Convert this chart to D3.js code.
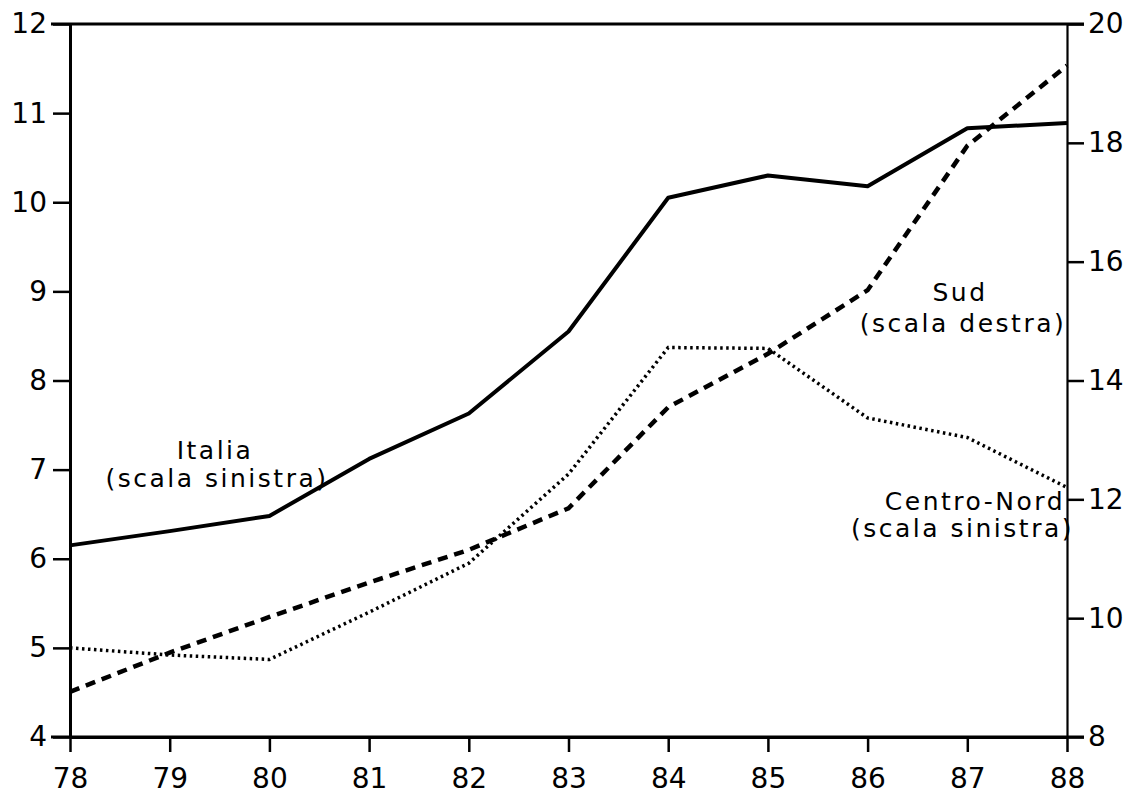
<!DOCTYPE html>
<html>
<head>
<meta charset="utf-8">
<script src="https://cdnjs.cloudflare.com/ajax/libs/d3/7.8.5/d3.min.js"></script>
<style>
    body { margin: 0; background: #fff; }
    text { font-family: "DejaVu Sans", sans-serif; fill: #000; }
</style>
</head>
<body>
<div id="chart"></div>
<script>
const w = 1147;
const h = 799;

// data
const years = [78, 79, 80, 81, 82, 83, 84, 85, 86, 87, 88];
const italia = [6.15, 6.31, 6.48, 7.12, 7.63, 8.55, 10.05, 10.3, 10.18, 10.83, 10.89];      // scala sinistra
const centroNord = [5.0, 4.92, 4.87, 5.4, 5.95, 6.95, 8.37, 8.36, 7.58, 7.36, 6.8];        // scala sinistra
const sud = [8.76, 9.42, 10.02, 10.6, 11.15, 11.85, 13.55, 14.45, 15.52, 17.95, 19.3];    // scala destra

const leftTicks = [4, 5, 6, 7, 8, 9, 10, 11, 12];
const rightTicks = [8, 10, 12, 14, 16, 18, 20];

const margin = { top: 24, right: 80, bottom: 62, left: 70 };

const svg = d3.select("#chart")
    .append("svg")
    .attr("width", w)
    .attr("height", h);

// scales
const x = d3.scaleLinear()
    .domain([78, 88])
    .range([margin.left, w - margin.right]);

const yLeft = d3.scaleLinear()
    .domain([4, 12])
    .range([h - margin.bottom, margin.top]);

const yRight = d3.scaleLinear()
    .domain([8, 20])
    .range([h - margin.bottom, margin.top]);

// axes
const xAxis = svg.append("g")
    .attr("transform", "translate(0," + yLeft(4) + ")")
    .call(d3.axisBottom(x).tickValues(years).tickFormat(d3.format("d"))
        .tickSize(15).tickPadding(16).tickSizeOuter(0));

const leftAxis = svg.append("g")
    .attr("transform", "translate(" + x(78) + ",0)")
    .call(d3.axisLeft(yLeft).tickValues(leftTicks).tickFormat(d3.format("d"))
        .tickSize(17).tickPadding(6).tickSizeOuter(0));

const rightAxis = svg.append("g")
    .attr("transform", "translate(" + x(88) + ",0)")
    .call(d3.axisRight(yRight).tickValues(rightTicks).tickFormat(d3.format("d"))
        .tickSize(17).tickPadding(4).tickSizeOuter(0));

[xAxis, leftAxis, rightAxis].forEach(function(a) {
    a.selectAll("text").style("font-size", "28px");
    a.selectAll("line").attr("stroke", "#000").attr("stroke-width", 2.5);
    a.select(".domain").attr("stroke", "#000").attr("stroke-width", 3);
});
rightAxis.select(".domain").attr("stroke-width", 2.2);

// top and bottom borders run across both tick marks
[12, 4].forEach(function(v) {
    svg.append("line")
        .attr("x1", x(78) - 19)
        .attr("x2", x(88) + 17)
        .attr("y1", yLeft(v))
        .attr("y2", yLeft(v))
        .attr("stroke", "#000")
        .attr("stroke-width", 3);
});

// lines
const lineLeft = d3.line()
    .x(function(d, i) { return x(years[i]); })
    .y(function(d) { return yLeft(d); });

const lineRight = d3.line()
    .x(function(d, i) { return x(years[i]); })
    .y(function(d) { return yRight(d); });

svg.append("path")
    .datum(italia)
    .attr("d", lineLeft)
    .attr("fill", "none")
    .attr("stroke", "#000")
    .attr("stroke-width", 4)
    .attr("stroke-linejoin", "round");

svg.append("path")
    .datum(centroNord)
    .attr("d", lineLeft)
    .attr("fill", "none")
    .attr("stroke", "#000")
    .attr("stroke-width", 3.5)
    .attr("stroke-dasharray", "2.5,3.5");

svg.append("path")
    .datum(sud)
    .attr("d", lineRight)
    .attr("fill", "none")
    .attr("stroke", "#000")
    .attr("stroke-width", 4.5)
    .attr("stroke-dasharray", "10,7");

// labels
const labels = [
    { text: "Italia", x: 215, y: 459, anchor: "middle" },
    { text: "(scala sinistra)", x: 217, y: 487, anchor: "middle" },
    { text: "Sud", x: 960, y: 301, anchor: "middle" },
    { text: "(scala destra)", x: 963, y: 332, anchor: "middle" },
    { text: "Centro-Nord", x: 1065, y: 510, anchor: "end" },
    { text: "(scala sinistra)", x: 1074, y: 537, anchor: "end" }
];

svg.selectAll(".lbl")
    .data(labels)
    .enter()
    .append("text")
    .attr("class", "lbl")
    .attr("x", function(d) { return d.x; })
    .attr("y", function(d) { return d.y; })
    .attr("text-anchor", function(d) { return d.anchor; })
    .style("font-size", "25px")
    .style("letter-spacing", "2.5px")
    .text(function(d) { return d.text; });
</script>
</body>
</html>
